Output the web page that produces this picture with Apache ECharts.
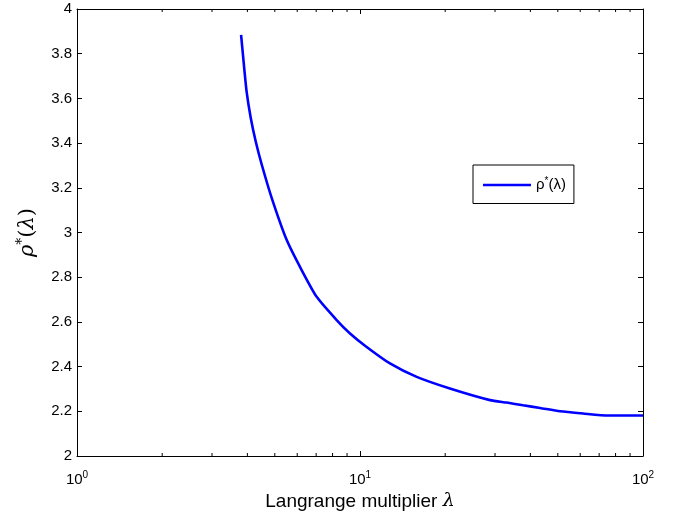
<!DOCTYPE html>
<html>
<head>
<meta charset="utf-8">
<script src="https://cdn.jsdelivr.net/npm/echarts@6/dist/echarts.min.js"></script>
<style>
html,body{margin:0;padding:0;background:#fff;}
#chart{width:679px;height:512px;}
</style>
</head>
<body>
<div id="chart"></div>
<script>
// Data
var lambdaValues = [3.80, 3.869, 3.975, 4.113, 4.283, 4.50, 4.88, 5.51, 6.22, 7.03, 8.27, 9.22, 10.5, 12.76, 15.86, 20.78, 28.8, 33.0, 37.7, 43.3, 50.9, 61.4, 75.2, 100];
var rhoValues    = [3.884, 3.779, 3.630, 3.511, 3.406, 3.302, 3.153, 2.966, 2.832, 2.712, 2.608, 2.548, 2.490, 2.414, 2.354, 2.302, 2.250, 2.239, 2.227, 2.215, 2.200, 2.190, 2.181, 2.181];
var seriesName = 'ρ*(λ)';
var xTickLabels = ['10{s|0}', '10{s|1}', '10{s|2}'];
var minorTickValues = [2, 3, 4, 5, 6, 7, 8, 9, 20, 30, 40, 50, 60, 70, 80, 90];

var points = lambdaValues.map(function (l, i) { return [l, rhoValues[i]]; });
var minorPoints = minorTickValues.map(function (v) { return [v, 2]; });

var chart = echarts.init(document.getElementById('chart'));
var labelFont = 'Liberation Sans, Arial, Helvetica, sans-serif';
var axisLine = { show: true, lineStyle: { color: '#000', width: 1 } };
var majorTick = { show: true, inside: true, length: 5, lineStyle: { color: '#000' } };

chart.setOption({
  animation: false,
  backgroundColor: '#fff',
  grid: { left: 77, right: 36, top: 9, bottom: 56, containLabel: false, outerBoundsMode: 'none' },
  legend: {
    left: 473, top: 165,
    padding: [11, 8, 11, 10],
    borderColor: '#000', borderWidth: 1,
    backgroundColor: '#fff',
    icon: 'rect',
    itemWidth: 48, itemHeight: 2.6,
    data: [seriesName],
    formatter: function () { return '{a|ρ}{s|*}{a|(λ)}'; },
    textStyle: {
      fontFamily: labelFont, fontSize: 15, color: '#000',
      rich: {
        a: { fontFamily: labelFont, fontSize: 15, color: '#000' },
        s: { fontFamily: labelFont, fontSize: 10, color: '#000', padding: [0, 0, 8, 0] }
      }
    }
  },
  xAxis: [{
    type: 'log', logBase: 10, min: 1, max: 100, position: 'bottom',
    axisLine: axisLine, splitLine: { show: false },
    axisTick: majorTick,
    axisLabel: {
      margin: 14,
      formatter: function (v) { var e = Math.round(Math.log10(v)); return xTickLabels[e]; },
      fontFamily: labelFont, fontSize: 15, color: '#000',
      rich: {
        s: { fontFamily: labelFont, fontSize: 10, color: '#000', padding: [0, 0, 9, 0] }
      }
    },
    name: '{t|Langrange multiplier }{m|λ}',
    nameLocation: 'middle', nameGap: 26,
    nameTextStyle: {
      rich: {
        t: { fontFamily: labelFont, fontSize: 19, color: '#000' },
        m: { fontFamily: 'DejaVu Serif, serif', fontStyle: 'italic', fontSize: 19, color: '#000' }
      }
    }
  }, {
    type: 'log', logBase: 10, min: 1, max: 100, position: 'top',
    axisLine: axisLine, splitLine: { show: false },
    axisTick: majorTick,
    axisLabel: { show: false }
  }],
  yAxis: [{
    type: 'value', min: 2, max: 4, interval: 0.2, position: 'left',
    axisLine: axisLine, splitLine: { show: false },
    axisTick: majorTick,
    axisLabel: {
      margin: 5,
      formatter: function (v) { return String(Math.round(v * 10) / 10); },
      fontFamily: labelFont, fontSize: 15, color: '#000'
    },
    name: '{m|ρ}{s|*}{p|(}{m|λ}{p|)}',
    nameLocation: 'middle', nameGap: 36, nameRotate: 90,
    nameTextStyle: {
      rich: {
        m: { fontFamily: 'DejaVu Serif, serif', fontStyle: 'italic', fontSize: 21, color: '#000' },
        p: { fontFamily: 'DejaVu Serif, serif', fontSize: 21, color: '#000' },
        s: { fontFamily: 'DejaVu Serif, serif', fontSize: 14, color: '#000', padding: [0, 0, 12, 0] }
      }
    }
  }, {
    type: 'value', min: 2, max: 4, interval: 0.2, position: 'right',
    axisLine: axisLine, splitLine: { show: false },
    axisTick: majorTick,
    axisLabel: { show: false }
  }],
  series: [{
    name: seriesName,
    type: 'line',
    xAxisIndex: 0, yAxisIndex: 0,
    data: points,
    symbol: 'none',
    smooth: 0.2,
    lineStyle: { color: '#0000ff', width: 2.6 },
    itemStyle: { color: '#0000ff' },
    z: 3
  }, {
    name: 'minorTicks',
    type: 'custom',
    xAxisIndex: 0, yAxisIndex: 0,
    data: minorPoints,
    silent: true,
    clip: false,
    renderItem: function (params, api) {
      var b = api.coord([api.value(0), 2]);
      var t = api.coord([api.value(0), 4]);
      var st = { stroke: '#000', lineWidth: 1 };
      return {
        type: 'group',
        children: [
          { type: 'line', shape: { x1: b[0], y1: b[1], x2: b[0], y2: b[1] - 3 }, style: st },
          { type: 'line', shape: { x1: t[0], y1: t[1], x2: t[0], y2: t[1] + 3 }, style: st }
        ]
      };
    },
    z: 4
  }]
});
</script>
</body>
</html>
